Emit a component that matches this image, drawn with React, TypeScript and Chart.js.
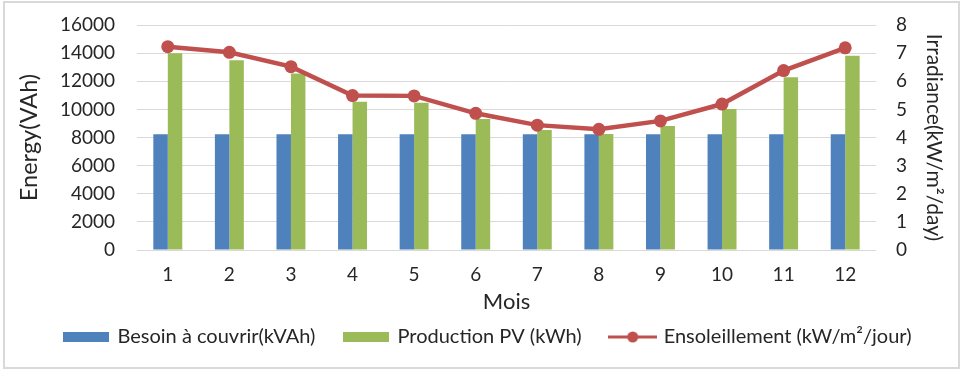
import React, { useEffect, useRef } from "react";
import { Chart, registerables } from "chart.js";

Chart.register(...registerables);

const months = ["1", "2", "3", "4", "5", "6", "7", "8", "9", "10", "11", "12"];
const besoin = [8230, 8230, 8230, 8230, 8230, 8230, 8230, 8230, 8230, 8230, 8230, 8230];
const production = [14000, 13500, 12550, 10550, 10480, 9320, 8530, 8250, 8820, 10030, 12280, 13820];
const ensoleillement = [7.23, 7.03, 6.52, 5.49, 5.48, 4.86, 4.44, 4.29, 4.59, 5.19, 6.38, 7.19];

const seriesNames = ["Besoin à couvrir(kVAh)", "Production PV (kWh)", "Ensoleillement (kW/m²/jour)"];
const leftTitle = "Energy(VAh)";
const rightTitle = "Irradiance(kW/m²/day)";
const xTitle = "Mois";

const BLUE = "#4F81BD";
const GREEN = "#9BBB59";
const RED = "#C0504D";
const GRID = "#D9D9D9";
const TEXT = "#262626";
const FONT = "Lato";

function rectIcon(color: string) {
  const c = document.createElement("canvas");
  c.width = 46;
  c.height = 10;
  const ctx = c.getContext("2d")!;
  ctx.fillStyle = color;
  ctx.fillRect(0, 0, 46, 10);
  return c;
}

function lineIcon(color: string) {
  const c = document.createElement("canvas");
  c.width = 49;
  c.height = 12;
  const ctx = c.getContext("2d")!;
  ctx.strokeStyle = color;
  ctx.lineWidth = 3;
  ctx.beginPath();
  ctx.moveTo(0, 6);
  ctx.lineTo(49, 6);
  ctx.stroke();
  ctx.fillStyle = color;
  ctx.beginPath();
  ctx.arc(24.5, 6, 5.5, 0, Math.PI * 2);
  ctx.fill();
  return c;
}

export default function App() {
  const ref = useRef<HTMLCanvasElement | null>(null);

  useEffect(() => {
    if (!ref.current) return;
    const icons = [rectIcon(BLUE), rectIcon(GREEN), lineIcon(RED)];
    const chart = new Chart(ref.current, {
      type: "bar",
      data: {
        labels: months,
        datasets: [
          {
            type: "bar",
            label: seriesNames[0],
            data: besoin,
            backgroundColor: BLUE,
            yAxisID: "y",
            order: 1,
            categoryPercentage: 0.47,
            barPercentage: 1,
          },
          {
            type: "bar",
            label: seriesNames[1],
            data: production,
            backgroundColor: GREEN,
            yAxisID: "y",
            order: 1,
            categoryPercentage: 0.47,
            barPercentage: 1,
          },
          {
            type: "line",
            label: seriesNames[2],
            data: ensoleillement,
            borderColor: RED,
            backgroundColor: RED,
            borderWidth: 4.5,
            pointRadius: 6.5,
            pointBackgroundColor: RED,
            pointBorderColor: RED,
            pointBorderWidth: 0,
            tension: 0,
            yAxisID: "y1",
            order: 0,
          } as any,
        ],
      },
      options: {
        responsive: false,
        animation: false,
        devicePixelRatio: 1,
        layout: { padding: { top: 25, left: 12, right: 0, bottom: 19 } },
        plugins: {
          tooltip: { enabled: false },
          legend: {
            position: "bottom",
            labels: {
              usePointStyle: true,
              pointStyleWidth: 42,
              padding: 30,
              color: TEXT,
              font: { family: FONT, size: 20 },
              generateLabels: (ch: any) =>
                ch.data.datasets.map((ds: any, i: number) => ({
                  text: ds.label,
                  pointStyle: icons[i],
                  fillStyle: "transparent",
                  strokeStyle: "transparent",
                  lineWidth: 0,
                  hidden: false,
                  datasetIndex: i,
                  fontColor: TEXT,
                })),
            },
          },
        },
        scales: {
          x: {
            grid: { display: false, drawTicks: false },
            border: { display: false },
            ticks: { color: TEXT, font: { family: FONT, size: 19 }, padding: 13, maxRotation: 0 },
            title: {
              display: true,
              text: xTitle,
              color: TEXT,
              font: { family: FONT, size: 22 },
              padding: { top: 0, bottom: -18 },
            },
            afterFit: (s: any) => {
              s.height = 47;
            },
          },
          y: {
            position: "left",
            min: 0,
            max: 16000,
            ticks: {
              stepSize: 2000,
              color: TEXT,
              font: { family: FONT, size: 19 },
              padding: 22,
              callback: (v: any) => String(v),
            },
            grid: { color: GRID, lineWidth: 1, drawTicks: false },
            border: { display: false },
            title: {
              display: true,
              text: leftTitle,
              color: TEXT,
              font: { family: FONT, size: 23.5 },
              padding: { top: 3, bottom: 0 },
            },
            afterFit: (s: any) => {
              s.width = 125;
              s.paddingTop = 0;
              s.paddingBottom = 0;
            },
          },
          y1: {
            position: "right",
            min: 0,
            max: 8,
            ticks: {
              stepSize: 1,
              color: TEXT,
              font: { family: FONT, size: 19 },
              padding: 20,
              callback: (v: any) => String(v),
            },
            grid: { display: false, drawTicks: false },
            border: { display: false },
            title: {
              display: true,
              text: rightTitle,
              color: TEXT,
              font: { family: FONT, size: 21 },
              padding: { top: 19, bottom: 0 },
            },
            afterFit: (s: any) => {
              s.width = 89;
              s.paddingTop = 0;
              s.paddingBottom = 0;
            },
          },
        },
      } as any,
    });
    return () => chart.destroy();
  }, []);

  return (
    <div style={{ position: "absolute", left: 0, top: 0, width: 965, height: 376, background: "#fff" }}>
      <div
        style={{
          position: "absolute",
          left: 3,
          top: 1,
          width: 953,
          height: 364,
          border: `2px solid ${GRID}`,
          boxSizing: "content-box",
        }}
      />
      <canvas ref={ref} width={965} height={376} style={{ position: "absolute", left: 0, top: 0, width: 965, height: 376 }} />
    </div>
  );
}
